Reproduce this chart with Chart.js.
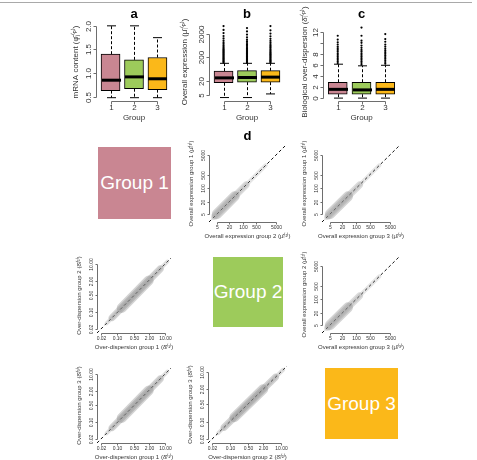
<!DOCTYPE html>
<html>
<head>
<meta charset="utf-8">
<title>Group comparison</title>
<script src="https://cdn.jsdelivr.net/npm/chart.js@4.4.1/dist/chart.umd.min.js"></script>
<style>
    body { margin: 0; background: #fff; }
    #figure { position: relative; width: 477px; height: 460px; overflow: hidden; font-family: "Liberation Sans", Arial, sans-serif; }
    #figure canvas { position: absolute; }
    .rule { position: absolute; left: 0; top: 2px; width: 472px; border-top: 1px solid #a9a9a9; }
    .groupBox { position: absolute; color: #fff; font-size: 19px; display: flex; align-items: center; justify-content: center; }
</style>
</head>
<body>
<div id="figure">
    <div class="rule"></div>
</div>
<script>

/***************************************************/
/********************** DATA ***********************/
/***************************************************/

const groups = [1, 2, 3];
const groupNames = ['Group 1', 'Group 2', 'Group 3'];
const groupTickLabels = ['1', '2', '3'];

// a: mRNA content
const mrnaLow = [0.48, 0.48, 0.48];
const mrnaQ1 = [0.63, 0.67, 0.65];
const mrnaMedian = [0.85, 0.92, 0.88];
const mrnaQ3 = [1.40, 1.28, 1.33];
const mrnaHigh = [2.00, 2.00, 1.75];
const mrnaTicks = [0.5, 1.0, 1.5, 2.0];
const mrnaTickLabels = ['0.5', '1.0', '1.5', '2.0'];

// b: overall expression (log axis)
const exprLow = [3.7, 3.7, 5.3];
const exprQ1 = [16, 17, 17];
const exprMedian = [26, 27, 28];
const exprQ3 = [51, 53, 53];
const exprHigh = [110, 110, 110];
const exprOutliers1 = [118, 128, 140, 152, 166, 182, 198, 216, 236, 258, 282, 310, 340, 375, 415, 460, 515, 580, 660, 760, 880, 1050, 1300, 1650, 2200, 3000, 4400];
const exprOutliers2 = [116, 126, 137, 149, 162, 177, 193, 210, 230, 252, 276, 302, 332, 365, 402, 445, 495, 555, 625, 710, 820, 960, 1150, 1450, 1900, 2600, 3600];
const exprOutliers3 = [117, 127, 139, 151, 165, 180, 196, 214, 234, 256, 280, 307, 338, 372, 410, 455, 510, 575, 650, 745, 870, 1030, 1250, 1600, 2100, 2900, 4400];
const exprTicks = [5, 20, 200, 2000];
const exprTickLabels = ['5', '20', '200', '2000'];

// c: biological over-dispersion
const dispLow = [0.0, 0.0, 0.0];
const dispQ1 = [0.72, 0.70, 0.72];
const dispMedian = [1.6, 1.5, 1.6];
const dispQ3 = [2.9, 2.9, 2.9];
const dispHigh = [6.2, 5.9, 6.0];
const dispOutliers1 = [6.4, 6.7, 7.0, 7.3, 7.6, 7.9, 8.2, 8.5, 8.8, 9.1, 9.4, 9.8, 10.2, 10.7, 11.4];
const dispOutliers2 = [6.1, 6.4, 6.7, 7.0, 7.3, 7.6, 7.9, 8.2, 8.5, 8.8, 9.2, 9.6, 10.1, 10.5, 11.4, 12.9];
const dispOutliers3 = [6.3, 6.6, 6.9, 7.2, 7.5, 7.8, 8.1, 8.4, 8.7, 9.0, 9.4, 9.8, 10.3, 10.8, 11.7];
const dispTicks = [0, 2, 4, 6, 8, 10, 12];
const dispTickLabels = ['0', '2', '4', '6', '8', '', '12'];

// d: pairwise comparisons (both axes share the same range)
const exprRange = [2.0, 16000];
const exprScatterTicks = [5, 20, 100, 500, 5000];
const exprScatterLabels = ['5', '20', '100', '500', '5000'];
const exprCloudFrom = [3.2, 4, 5];
const exprCloudTo = [1500, 150, 40];

const dispRange = [0.014, 17];
const dispScatterTicks = [0.02, 0.10, 0.50, 2.00, 10.00];
const dispScatterLabels = ['0.02', '0.10', '0.50', '2.00', '10.00'];
const dispCloudFrom = [0.035, 0.06, 0.15];
const dispCloudTo = [12, 6, 2];


/***************************************************/
/********************** STYLE **********************/
/***************************************************/

const fontFamily = '"Liberation Sans", Arial, Helvetica, sans-serif';
const groupColors = ['#c98692', '#9dcb5b', '#fbb819'];
const axisColor = '#6e6e6e';
const labelColor = '#333333';
const cloudWidths = [4, 7, 10];
const exprCloudColors = ['rgba(150,150,150,0.25)', 'rgba(140,140,140,0.3)', 'rgba(130,130,130,0.35)'];
const dispCloudColors = ['rgba(150,150,150,0.3)', 'rgba(130,130,130,0.35)', 'rgba(110,110,110,0.3)'];


/***************************************************/
/********************* PLUGINS *********************/
/***************************************************/

// base R looking axes: line only from first to last tick, labels parallel to axis
const rAxes = {
    id: 'rAxes',
    afterDraw: function (chart, args, opts) {
        if (!opts.yTicks) return;
        var ctx = chart.ctx;
        var area = chart.chartArea;
        var xScale = chart.scales.x;
        var yScale = chart.scales.y;
        var left = Math.round(area.left) + 0.5;
        var bottom = Math.round(area.bottom) + 0.5;

        var yPix = opts.yTicks.map(function (v) { return Math.round(yScale.getPixelForValue(v)) + 0.5; });
        var xPix = opts.xTicks.map(function (v) { return Math.round(xScale.getPixelForValue(v)) + 0.5; });

        ctx.save();
        ctx.strokeStyle = axisColor;
        ctx.lineWidth = 1;
        ctx.beginPath();
        ctx.moveTo(left, yPix[0]);
        ctx.lineTo(left, yPix[yPix.length - 1]);
        yPix.forEach(function (p) { ctx.moveTo(left, p); ctx.lineTo(left - opts.tickLen, p); });
        ctx.moveTo(xPix[0], bottom);
        ctx.lineTo(xPix[xPix.length - 1], bottom);
        xPix.forEach(function (p) { ctx.moveTo(p, bottom); ctx.lineTo(p, bottom + opts.tickLen); });
        ctx.stroke();

        // tick labels
        ctx.fillStyle = labelColor;
        ctx.font = opts.tickSize + 'px ' + fontFamily;
        ctx.textAlign = 'center';
        ctx.textBaseline = 'middle';
        yPix.forEach(function (p, i) {
            ctx.save();
            ctx.translate(left - opts.yLabelGap, p);
            ctx.rotate(-Math.PI / 2);
            ctx.fillText(opts.yLabels[i], 0, 0);
            ctx.restore();
        });
        xPix.forEach(function (p, i) { ctx.fillText(opts.xLabels[i], p, bottom + opts.xLabelGap); });

        // axis titles
        ctx.font = opts.titleSize + 'px ' + fontFamily;
        ctx.fillText(opts.xTitle, (area.left + area.right) / 2, bottom + opts.xTitleGap);
        ctx.save();
        ctx.translate(left - opts.yTitleGap, (area.top + area.bottom) / 2);
        ctx.rotate(-Math.PI / 2);
        ctx.fillText(opts.yTitle, 0, 0);
        ctx.restore();

        // panel letter
        if (opts.letter) {
            ctx.fillStyle = '#000';
            ctx.font = 'bold 13px ' + fontFamily;
            ctx.fillText(opts.letter, (area.left + area.right) / 2, area.top - 9);
        }
        ctx.restore();
    }
};

// whiskers, staples and medians of the boxplots
const boxWhisker = {
    id: 'boxWhisker',
    afterDatasetsDraw: function (chart, args, opts) {
        if (!opts.median) return;
        var ctx = chart.ctx;
        var xScale = chart.scales.x;
        var yScale = chart.scales.y;
        ctx.save();
        ctx.strokeStyle = '#000';
        groups.forEach(function (g, i) {
            var x = Math.round(xScale.getPixelForValue(g)) + 0.5;
            var yLow = yScale.getPixelForValue(opts.low[i]);
            var yQ1 = yScale.getPixelForValue(opts.q1[i]);
            var yMed = yScale.getPixelForValue(opts.median[i]);
            var yQ3 = yScale.getPixelForValue(opts.q3[i]);
            var yHigh = yScale.getPixelForValue(opts.high[i]);

            ctx.lineWidth = 1;
            ctx.setLineDash([3, 2]);
            ctx.beginPath();
            ctx.moveTo(x, yQ3); ctx.lineTo(x, yHigh);
            ctx.moveTo(x, yQ1); ctx.lineTo(x, yLow);
            ctx.stroke();

            ctx.setLineDash([]);
            ctx.beginPath();
            ctx.moveTo(x - opts.capHalf, yHigh); ctx.lineTo(x + opts.capHalf, yHigh);
            ctx.moveTo(x - opts.capHalf, yLow); ctx.lineTo(x + opts.capHalf, yLow);
            ctx.stroke();

            ctx.lineWidth = 3;
            ctx.beginPath();
            ctx.moveTo(x - opts.boxHalf, yMed); ctx.lineTo(x + opts.boxHalf, yMed);
            ctx.stroke();
        });
        ctx.restore();
    }
};

Chart.register(rAxes, boxWhisker);


/***************************************************/
/********************* HELPERS *********************/
/***************************************************/

// makes a canvas around a plot rectangle given in page pixels
function addCanvas(plot, margin) {
    var canvas = document.createElement('canvas');
    canvas.width = plot.r - plot.l + margin.l + margin.r;
    canvas.height = plot.b - plot.t + margin.t + margin.b;
    canvas.style.left = (plot.l - margin.l) + 'px';
    canvas.style.top = (plot.t - margin.t) + 'px';
    document.getElementById('figure').appendChild(canvas);
    return {
        ctx: canvas.getContext('2d'),
        padding: { left: margin.l, top: margin.t, right: margin.r, bottom: margin.b }
    };
}

function hiddenScale(type, range) {
    return { type: type, min: range[0], max: range[1], offset: false, display: false };
}


/***************************************************/
/***************** DRAWING CHARTS ******************/
/***************************************************/

function drawBoxPanel(plot, stats, yType, yRange, axis) {
    var c = addCanvas(plot, { l: 30, t: 20, r: 4, b: 22 });

    var outlierPoints = [];
    stats.outliers.forEach(function (list, i) {
        list.forEach(function (v) { outlierPoints.push({ x: groups[i], y: v }); });
    });

    new Chart(c.ctx, {
        type: 'bar',
        data: {
            datasets: [{
                data: groups.map(function (g, i) { return { x: g, y: [stats.q1[i], stats.q3[i]] }; }),
                backgroundColor: groupColors,
                borderColor: '#000',
                borderWidth: 1,
                borderSkipped: false,
                barThickness: 19
            }, {
                type: 'scatter',
                data: outlierPoints,
                pointRadius: 1.1,
                pointBackgroundColor: '#000',
                pointBorderWidth: 0
            }]
        },
        options: {
            responsive: false,
            animation: false,
            events: [],
            layout: { padding: c.padding },
            scales: {
                x: hiddenScale('linear', [0.38, 3.62]),
                y: hiddenScale(yType, yRange)
            },
            plugins: {
                legend: { display: false },
                tooltip: { enabled: false },
                boxWhisker: {
                    low: stats.low, q1: stats.q1, median: stats.median, q3: stats.q3, high: stats.high,
                    boxHalf: 9.5, capHalf: 4.5
                },
                rAxes: Object.assign({
                    xTicks: groups, xLabels: groupTickLabels, xTitle: 'Group',
                    tickLen: 3, tickSize: 8, titleSize: 8,
                    yLabelGap: 8, xLabelGap: 6.5, xTitleGap: 16
                }, axis)
            }
        }
    });
}

function drawScatterPanel(plot, range, ticks, tickLabels, cloudFrom, cloudTo, cloudColors, xTitle, yTitle, letter) {
    var c = addCanvas(plot, { l: 28, t: 16, r: 8, b: 20 });

    // grey density band along the diagonal, then the dashed identity line
    var datasets = cloudFrom.map(function (from, i) {
        return {
            data: [{ x: from, y: from }, { x: cloudTo[i], y: cloudTo[i] }],
            showLine: true,
            borderColor: cloudColors[i],
            borderWidth: cloudWidths[i],
            borderCapStyle: 'round',
            pointRadius: 0
        };
    });
    datasets.push({
        data: [{ x: range[0], y: range[0] }, { x: range[1], y: range[1] }],
        showLine: true,
        borderColor: '#111',
        borderWidth: 1,
        borderDash: [3, 2.5],
        pointRadius: 0
    });

    new Chart(c.ctx, {
        type: 'scatter',
        data: { datasets: datasets },
        options: {
            responsive: false,
            animation: false,
            events: [],
            layout: { padding: c.padding },
            scales: {
                x: hiddenScale('logarithmic', range),
                y: hiddenScale('logarithmic', range)
            },
            plugins: {
                legend: { display: false },
                tooltip: { enabled: false },
                rAxes: {
                    xTicks: ticks, xLabels: tickLabels, yTicks: ticks, yLabels: tickLabels,
                    xTitle: xTitle, yTitle: yTitle, letter: letter,
                    tickLen: 2, tickSize: 5, titleSize: 6,
                    yLabelGap: 6, xLabelGap: 5, xTitleGap: 14, yTitleGap: 18
                }
            }
        }
    });
}

function drawGroupBoxes(rects) {
    rects.forEach(function (r, i) {
        var div = document.createElement('div');
        div.className = 'groupBox';
        div.style.left = r.l + 'px';
        div.style.top = r.t + 'px';
        div.style.width = r.w + 'px';
        div.style.height = r.h + 'px';
        div.style.background = groupColors[i];
        div.textContent = groupNames[i];
        document.getElementById('figure').appendChild(div);
    });
}


/***************************************************/
/********************** LAYOUT *********************/
/***************************************************/

drawBoxPanel({ l: 96, t: 23, r: 172, b: 101 },
    { low: mrnaLow, q1: mrnaQ1, median: mrnaMedian, q3: mrnaQ3, high: mrnaHigh, outliers: [] },
    'linear', [0.41, 2.06],
    { yTicks: mrnaTicks, yLabels: mrnaTickLabels, yTitle: 'mRNA content (φ̂ⱼ⁽ᵖ⁾)', yTitleGap: 21, letter: 'a' });

drawBoxPanel({ l: 209, t: 23, r: 285, b: 101 },
    { low: exprLow, q1: exprQ1, median: exprMedian, q3: exprQ3, high: exprHigh, outliers: [exprOutliers1, exprOutliers2, exprOutliers3] },
    'logarithmic', [2.63, 5980],
    { yTicks: exprTicks, yLabels: exprTickLabels, yTitle: 'Overall expression (μ̂ᵢ⁽ᵖ⁾)', yTitleGap: 25, letter: 'b' });

drawBoxPanel({ l: 323, t: 23, r: 400, b: 101 },
    { low: dispLow, q1: dispQ1, median: dispMedian, q3: dispQ3, high: dispHigh, outliers: [dispOutliers1, dispOutliers2, dispOutliers3] },
    'linear', [-0.53, 13.73],
    { yTicks: dispTicks, yLabels: dispTickLabels, yTitle: 'Biological over-dispersion (δ̂ᵢ⁽ᵖ⁾)', yTitleGap: 19, letter: 'c' });

drawGroupBoxes([
    { l: 98, t: 147, w: 73, h: 72 },
    { l: 213, t: 257, w: 70, h: 70 },
    { l: 325, t: 368, w: 73, h: 71 }
]);

drawScatterPanel({ l: 209, t: 145, r: 286, b: 222 }, exprRange, exprScatterTicks, exprScatterLabels,
    exprCloudFrom, exprCloudTo, exprCloudColors,
    'Overall expression group 2 (μ̂ᵢ⁽²⁾)', 'Overall expression group 1 (μ̂ᵢ⁽¹⁾)', 'd');
drawScatterPanel({ l: 322, t: 145, r: 400, b: 222 }, exprRange, exprScatterTicks, exprScatterLabels,
    exprCloudFrom, exprCloudTo, exprCloudColors,
    'Overall expression group 3 (μ̂ᵢ⁽³⁾)', 'Overall expression group 1 (μ̂ᵢ⁽¹⁾)');
drawScatterPanel({ l: 97, t: 258, r: 171, b: 333 }, dispRange, dispScatterTicks, dispScatterLabels,
    dispCloudFrom, dispCloudTo, dispCloudColors,
    'Over-dispersion group 1 (δ̂ᵢ⁽¹⁾)', 'Over-dispersion group 2 (δ̂ᵢ⁽²⁾)');
drawScatterPanel({ l: 322, t: 256, r: 400, b: 333 }, exprRange, exprScatterTicks, exprScatterLabels,
    exprCloudFrom, exprCloudTo, exprCloudColors,
    'Overall expression group 3 (μ̂ᵢ⁽³⁾)', 'Overall expression group 2 (μ̂ᵢ⁽²⁾)');
drawScatterPanel({ l: 97, t: 368, r: 171, b: 443 }, dispRange, dispScatterTicks, dispScatterLabels,
    dispCloudFrom, dispCloudTo, dispCloudColors,
    'Over-dispersion group 1 (δ̂ᵢ⁽¹⁾)', 'Over-dispersion group 3 (δ̂ᵢ⁽³⁾)');
drawScatterPanel({ l: 208, t: 366, r: 287, b: 443 }, dispRange, dispScatterTicks, dispScatterLabels,
    dispCloudFrom, dispCloudTo, dispCloudColors,
    'Over-dispersion group 2 (δ̂ᵢ⁽²⁾)', 'Over-dispersion group 3 (δ̂ᵢ⁽³⁾)');

</script>
</body>
</html>
